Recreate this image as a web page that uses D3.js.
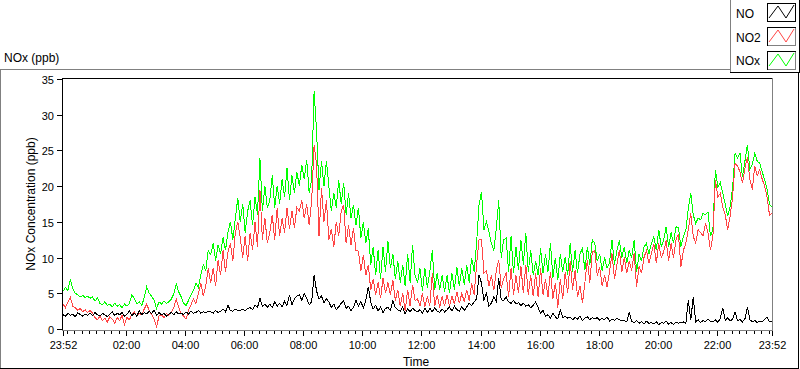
<!DOCTYPE html>
<html><head><meta charset="utf-8">
<script src="https://cdn.jsdelivr.net/npm/d3@7"></script>
<style>body{margin:0;background:#fff}svg{display:block}text{font-family:"Liberation Sans",Arial,sans-serif;fill:#000}</style>
</head><body><svg id="c" width="800" height="369"></svg>
<script>
const seriesNames = ["NO", "NO2", "NOx"];
const seriesColors = ["#000000", "#ff4545", "#00ff00"];
const startTime = new Date(2000, 0, 1, 23, 52);
const endTime = new Date(2000, 0, 2, 23, 52);
const stepMinutes = 5;

const NOx = [
5.3,5.8,5.4,7.0,5.6,5.0,4.8,4.5,4.7,4.4,4.6,4.3,
4.5,3.9,4.4,3.6,3.4,3.8,3.3,3.5,3.1,3.6,3.2,3.4,
3.0,3.5,3.2,3.6,4.8,4.2,3.5,3.8,3.3,4.4,5.9,5.0,
4.6,4.0,2.9,3.8,3.5,3.9,3.6,3.8,4.2,4.9,6.3,5.2,
4.5,3.6,3.3,4.0,4.8,5.4,6.4,5.8,7.6,9.0,8.2,11.0,
10.4,12.0,9.6,11.8,10.5,12.8,11.0,13.5,15.0,12.5,15.5,18.3,
15.0,17.5,13.5,16.5,18.0,14.5,18.5,16.0,23.9,16.5,20.0,17.0,
18.0,21.5,17.0,20.0,17.5,21.0,18.5,22.5,18.0,21.5,19.0,22.0,
20.0,23.0,21.0,23.7,19.0,21.0,33.3,27.7,19.5,23.5,20.0,23.5,
20.0,16.5,19.0,17.0,20.9,17.5,20.5,16.0,19.0,15.5,17.4,14.5,
17.0,12.7,15.0,12.0,14.1,9.0,11.5,7.5,11.0,7.0,11.5,8.0,
12.3,8.5,10.5,7.0,9.5,6.5,9.0,6.0,10.5,6.5,11.8,7.5,
6.5,8.5,5.3,8.5,5.8,8.0,11.0,5.5,7.8,5.5,7.5,5.2,
7.5,5.0,7.8,5.5,8.7,6.0,8.5,6.2,9.0,6.5,10.0,8.0,
12.0,17.4,19.2,13.9,15.0,13.6,12.0,11.0,14.0,18.0,10.0,12.5,
12.7,8.0,13.0,7.8,11.5,8.2,12.5,9.0,13.5,8.0,11.0,7.5,
9.5,7.5,11.3,7.8,10.5,8.0,12.0,7.2,10.0,6.8,10.5,8.0,
10.1,7.5,12.0,8.0,11.0,7.8,10.5,11.3,8.2,11.5,9.0,12.5,
12.0,9.5,10.5,8.2,10.0,8.5,9.3,12.5,9.0,11.0,12.4,10.0,
11.5,9.2,11.0,10.0,12.5,8.0,10.5,9.5,11.5,12.0,10.5,12.0,
12.9,11.0,13.9,11.5,12.5,14.3,11.5,13.5,12.0,14.3,14.2,11.5,
13.0,13.8,16.9,19.0,16.0,14.8,15.5,15.3,16.2,16.0,16.4,13.0,
13.9,22.3,19.9,20.5,19.0,17.5,15.8,17.2,19.8,24.6,24.0,24.6,
21.3,23.5,25.8,22.3,23.0,24.6,23.5,23.2,22.0,20.9,19.6,17.4,
17.1
];
const NO2 = [
3.5,3.0,3.8,4.4,3.2,3.0,2.6,2.9,2.4,2.7,2.3,2.6,
2.2,1.6,1.3,1.8,1.2,1.5,1.0,1.7,1.4,0.8,1.6,1.2,
1.9,0.6,1.6,1.3,2.1,2.4,1.8,2.2,2.0,2.8,3.5,2.6,
2.0,1.4,0.3,1.8,2.0,1.6,2.2,1.9,2.4,3.0,4.2,3.0,
2.2,1.8,1.4,2.6,3.4,4.2,3.6,5.0,6.4,4.6,6.0,8.5,
6.4,8.5,6.0,9.7,7.5,11.0,8.0,10.8,12.0,9.5,13.5,15.0,
12.8,10.0,13.0,9.5,13.5,11.0,15.0,11.5,19.5,12.5,15.6,12.0,
13.5,16.0,12.5,16.9,13.0,15.5,13.5,17.0,14.0,16.5,14.2,17.0,
16.5,18.0,15.5,17.5,14.5,17.9,25.8,23.0,13.0,19.7,15.0,18.0,
12.5,14.0,11.5,15.0,13.0,16.5,17.4,12.0,14.5,11.8,14.1,11.0,
10.9,8.1,10.4,7.5,9.0,5.5,7.0,4.8,6.5,4.3,7.1,5.0,
6.5,4.8,6.8,4.0,5.5,3.2,5.0,2.5,5.5,3.2,6.2,4.0,
4.2,3.2,5.0,3.1,4.5,3.3,7.8,3.2,4.8,3.0,4.6,3.2,
4.8,3.2,4.6,3.5,5.2,3.6,5.0,3.8,5.5,4.0,6.4,4.8,
9.0,12.5,12.5,7.8,8.2,6.0,7.5,5.4,8.2,9.7,5.8,7.0,
7.8,4.5,8.5,4.8,7.5,5.0,8.8,5.0,9.0,4.8,7.5,4.6,
7.8,4.5,8.5,4.8,7.0,4.5,8.0,4.2,6.5,3.0,7.0,4.2,
8.0,5.0,9.5,5.5,8.2,4.5,6.0,3.6,6.5,9.7,6.5,10.8,
11.0,7.5,8.7,6.0,7.5,5.9,8.0,10.6,7.0,9.0,11.0,8.0,
10.0,7.8,9.5,8.2,10.6,5.9,8.8,7.8,10.0,11.0,9.2,10.5,
11.9,9.2,12.0,10.0,10.8,12.4,9.5,12.0,10.0,12.5,13.3,8.7,
11.0,12.0,13.9,16.2,13.0,12.0,13.9,13.5,13.0,14.8,13.5,11.0,
13.0,20.9,18.5,19.0,17.1,16.0,13.9,15.8,18.5,23.2,22.8,22.0,
20.4,22.5,24.1,21.0,19.5,22.8,21.5,22.3,21.0,20.0,18.5,15.9,
16.2
];
const NO = [
2.0,1.8,2.2,1.9,2.1,1.7,2.3,2.0,1.8,2.1,1.9,2.2,
1.9,2.3,2.0,1.8,2.2,2.0,1.7,2.1,2.4,1.9,2.2,2.0,
2.3,1.8,2.1,2.5,1.9,2.2,1.8,2.6,2.0,2.3,2.1,2.5,
2.2,2.6,1.9,2.3,2.0,2.2,1.8,2.1,2.3,2.0,2.4,2.1,
2.2,2.0,2.4,2.1,2.5,2.2,2.3,2.6,2.2,2.4,2.3,2.5,
2.4,2.2,2.6,2.3,2.5,2.8,2.4,3.3,2.6,2.5,2.8,2.6,
2.6,2.8,2.5,2.9,3.0,2.7,3.4,3.0,4.3,3.2,3.5,3.0,
3.5,3.0,3.8,3.2,3.6,3.1,3.9,3.3,4.8,3.4,4.2,4.6,
4.8,4.0,5.0,4.3,3.4,3.8,7.6,5.3,4.2,4.6,3.7,4.2,
3.8,3.0,3.5,2.7,3.1,3.6,4.0,2.9,3.2,2.6,3.0,4.0,
3.2,3.8,3.0,4.0,5.9,3.8,2.8,3.3,2.5,3.1,2.3,2.9,
3.0,2.6,4.0,3.0,2.7,2.5,3.1,2.1,2.8,2.4,2.9,2.6,
2.4,2.7,2.2,2.9,2.3,2.9,2.4,3.0,2.5,2.3,2.8,2.4,
2.7,3.1,2.5,3.2,2.7,2.5,3.1,2.6,3.1,3.6,3.3,3.8,
4.2,7.6,6.4,4.0,5.0,3.2,3.6,4.5,3.8,7.1,4.1,4.0,
4.5,3.8,3.6,4.0,3.5,3.7,3.3,3.6,3.2,3.4,3.0,3.3,
3.8,3.0,2.2,2.6,1.8,2.0,1.5,2.2,1.7,1.4,2.7,1.6,
1.8,1.5,1.7,1.3,1.6,1.4,1.8,1.2,1.5,1.7,1.3,1.6,
1.4,1.6,1.2,1.5,1.3,1.7,1.1,1.4,1.2,1.5,1.3,1.2,
1.2,1.0,2.4,1.1,0.9,1.2,0.8,1.0,0.7,1.1,0.8,0.9,
0.7,1.0,0.6,0.9,0.8,1.1,0.7,0.9,0.6,1.0,0.8,0.9,
1.0,0.8,4.0,1.2,4.5,1.0,1.3,0.9,1.2,1.0,1.4,1.1,
1.0,1.3,0.9,1.5,2.9,1.2,1.6,1.1,1.4,2.4,1.2,1.3,
1.0,1.4,3.1,1.3,1.0,1.2,0.9,1.1,1.0,1.3,1.7,1.0,
1.1
];
const yTicks = [0, 5, 10, 15, 20, 25, 30, 35];
const xTickLabels = ["23:52","02:00","04:00","06:00","08:00","10:00","12:00","14:00","16:00","18:00","20:00","22:00","23:52"];
const titleText = "NOx (ppb)";
const yLabel = "NOx Concentration (ppb)";
const xLabel = "Time";

const svg = d3.select("#c");
const x = d3.scaleTime().domain([startTime, endTime]).range([63, 772]);
const y = d3.scaleLinear().domain([0, 35]).range([329, 79]);

function ln(x1, y1, x2, y2, c) {
  svg.append("line").attr("x1", x1).attr("y1", y1).attr("x2", x2).attr("y2", y2)
    .attr("stroke", c).attr("stroke-width", 1).attr("shape-rendering", "crispEdges");
}

// outer frame
ln(0, 69.5, 730, 69.5, "#808080");
ln(0.5, 69, 0.5, 369, "#808080");
ln(0, 368.5, 799, 368.5, "#000");
ln(798.5, 72, 798.5, 369, "#000");
// legend frame
ln(730.5, 0, 730.5, 72, "#808080");
ln(730, 72.5, 799, 72.5, "#000");
ln(799.5, 0, 799.5, 73, "#000");

// title
svg.append("text").attr("x", 4).attr("y", 62).attr("font-size", 12).text(titleText);

// data
const toPoints = arr => arr.map((v, i) => ({t: d3.timeMinute.offset(startTime, i * stepMinutes), v}));
const line = d3.line().x(d => x(d.t)).y(d => y(d.v));
svg.append("clipPath").attr("id", "clip").append("rect").attr("x", 63).attr("y", 79).attr("width", 709).attr("height", 251);
const g = svg.append("g").attr("clip-path", "url(#clip)");
[[NOx, seriesColors[2]], [NO2, seriesColors[1]], [NO, seriesColors[0]]].forEach(([arr, c]) => {
  g.append("path").attr("d", line(toPoints(arr))).attr("fill", "none").attr("stroke", c)
    .attr("stroke-width", 1).attr("shape-rendering", "crispEdges");
});

// plot box
ln(62, 78.5, 773, 78.5, "#000");
ln(62.5, 78, 62.5, 331, "#000");
ln(62, 330.5, 773, 330.5, "#808080");
ln(772.5, 78, 772.5, 331, "#808080");

// y axis ticks
yTicks.forEach(v => {
  const yy = Math.round(y(v)) + 0.5;
  ln(57, yy, 62, yy, "#000");
  svg.append("text").attr("x", 54).attr("y", yy + 4).attr("text-anchor", "end").attr("font-size", 11).text(v);
});

// x axis ticks
const majorDates = xTickLabels.map((lab, i) => {
  if (i === 0) return startTime;
  if (i === xTickLabels.length - 1) return endTime;
  const [h, m] = lab.split(":").map(Number);
  return new Date(2000, 0, 2, h, m);
});
d3.timeMinute.every(15).range(startTime, endTime).forEach(d => {
  const xx = Math.round(x(d)) + 0.5;
  ln(xx, 331, xx, 334, "#000");
});
majorDates.forEach((d, i) => {
  const xx = Math.round(x(d)) + 0.5;
  ln(xx, 331, xx, 336, "#000");
  svg.append("text").attr("x", xx).attr("y", 349).attr("text-anchor", "middle").attr("font-size", 11).text(xTickLabels[i]);
});

// axis labels
svg.append("text").attr("transform", "translate(35,204) rotate(-90)").attr("text-anchor", "middle").attr("font-size", 12).text(yLabel);
svg.append("text").attr("x", 416).attr("y", 366).attr("text-anchor", "middle").attr("font-size", 12).text(xLabel);

// legend
seriesNames.forEach((name, i) => {
  const top = [3, 27, 50.5][i];
  const by = top + 14.5;
  svg.append("text").attr("x", 736).attr("y", by).attr("font-size", 12).text(name);
  const sx = 767, sw = 28, sh = 18;
  svg.append("rect").attr("x", sx + 0.5).attr("y", Math.round(top) + 0.5).attr("width", sw).attr("height", sh)
    .attr("fill", "#fff").attr("stroke", i === 0 ? "#000" : "#808080").attr("shape-rendering", "crispEdges");
  const ty = Math.round(top);
  ln(sx, ty + 0.5, sx + sw + 1, ty + 0.5, "#000");
  ln(sx + 0.5, ty, sx + 0.5, ty + sh + 1, "#000");
  const zz = [[sx + 2, ty + sh - 3], [sx + 11, ty + 3], [sx + 19, ty + sh - 3], [sx + sw - 1, ty + 2]];
  svg.append("path").attr("d", d3.line()(zz)).attr("fill", "none").attr("stroke", seriesColors[i]).attr("stroke-width", 1);
});
</script></body></html>
